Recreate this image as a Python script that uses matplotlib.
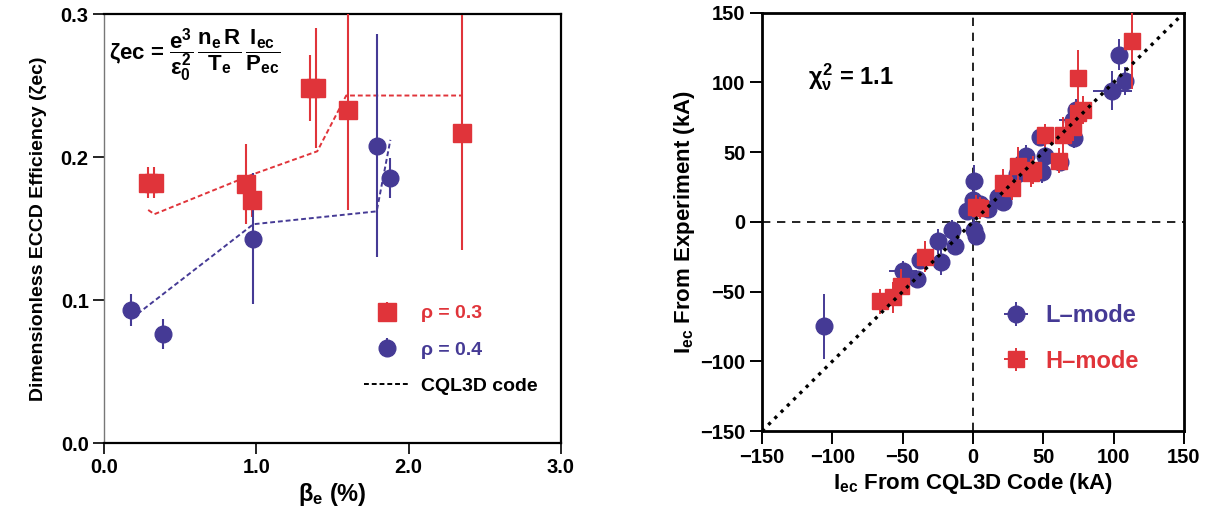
import matplotlib
matplotlib.use('Agg')
import matplotlib.pyplot as plt
from matplotlib.lines import Line2D

plt.rcParams['font.family'] = ['Liberation Sans', 'DejaVu Sans']
plt.rcParams['font.weight'] = 'bold'
plt.rcParams['axes.labelweight'] = 'bold'
plt.rcParams['mathtext.fontset'] = 'custom'
plt.rcParams['mathtext.rm'] = 'Liberation Sans:bold'
plt.rcParams['mathtext.it'] = 'Liberation Sans:bold'
plt.rcParams['mathtext.bf'] = 'Liberation Sans:bold'

RED = '#e0343a'
BLUE = '#453a95'

# ECCD efficiency vs beta_e
beta_r = [0.29, 0.33, 0.93, 0.97, 1.35, 1.39, 1.60, 2.35]
zeta_r = [0.182, 0.182, 0.181, 0.170, 0.248, 0.248, 0.233, 0.217]
zerr_r = [0.011, 0.011, 0.028, 0.012, 0.023, 0.042, 0.070, 0.082]

beta_b = [0.18, 0.39, 0.98, 1.79, 1.88]
zeta_b = [0.093, 0.076, 0.143, 0.208, 0.185]
zerr_b = [0.011, 0.0105, 0.046, 0.078, 0.014]

cql_beta_r = [0.29, 0.33, 0.98, 1.40, 1.59, 2.35]
cql_zeta_r = [0.163, 0.160, 0.188, 0.204, 0.243, 0.243]
cql_beta_b = [0.18, 0.98, 1.79, 1.88]
cql_zeta_b = [0.087, 0.153, 0.162, 0.212]

# measured vs computed current (kA)
lmode_x = [-106, -50, -40, -38, -25, -23, -15, -13, -4, 1, 0, 2, 1, 5, 11, 18, 21,
           31, 38, 35, 49, 51, 48, 62, 72, 73, 71, 99, 104, 108]
lmode_y = [-75, -35, -41, -27, -14, -29, -6, -17, 8, 29, 16, -10, -6, 13, 9, 18, 14,
           34, 47, 42, 36, 47, 61, 43, 60, 80, 73, 94, 120, 101]
lmode_xerr = [0, 10, 0, 0, 0, 0, 0, 0, 0, 0, 0, 0, 0, 0, 0, 0, 0,
              0, 0, 0, 0, 0, 0, 0, 0, 0, 10, 14, 0, 0]
lmode_yerr = [23, 7, 5, 7, 9, 9, 7, 5, 5, 12, 6, 6, 10, 5, 5, 5, 5,
              6, 8, 7, 8, 9, 6, 6, 7, 8, 6, 14, 11, 10]

hmode_x = [-66, -57, -51, -34, 2, 5, 21, 28, 32, 41, 43, 51, 61, 64, 71, 75, 78, 75, 113]
hmode_y = [-57, -54, -46, -25, 11, 10, 28, 24, 40, 35, 37, 62, 44, 62, 68, 78, 80, 103, 130]
hmode_xerr = [0, 0, 0, 0, 0, 0, 0, 0, 0, 0, 0, 0, 0, 0, 0, 5, 0, 0, 0]
hmode_yerr = [9, 11, 12, 11, 8, 8, 10, 8, 14, 10, 10, 8, 9, 13, 10, 8, 10, 20, 35]

diag = [-150, 150]

fig = plt.figure(figsize=(12.08, 5.17), dpi=100)
ax1 = fig.add_axes([0.0861, 0.1431, 0.3783, 0.8298])
ax2 = fig.add_axes([0.6308, 0.1663, 0.3493, 0.8091])

# left panel
ax1.plot(cql_beta_r, cql_zeta_r, '--', color=RED, lw=1.4, dashes=(2.5, 1.5))
ax1.plot(cql_beta_b, cql_zeta_b, '--', color=BLUE, lw=1.4, dashes=(2.5, 1.5))
h_r = ax1.errorbar(beta_r, zeta_r, yerr=zerr_r, fmt='s', ms=13, color=RED,
                   ecolor=RED, elinewidth=1.5, capsize=0, zorder=3)
h_b = ax1.errorbar(beta_b, zeta_b, yerr=zerr_b, fmt='o', ms=12, color=BLUE,
                   ecolor=BLUE, elinewidth=1.5, capsize=0, zorder=3)
h_c = Line2D([], [], ls='--', color='black', lw=1.4, dashes=(2.5, 1.5))

ax1.set_xlim(0, 3)
ax1.set_ylim(0, 0.3)
ax1.set_xticks([0, 1, 2, 3])
ax1.set_xticklabels(['0.0', '1.0', '2.0', '3.0'])
ax1.set_yticks([0, 0.1, 0.2, 0.3])
ax1.set_yticklabels(['0.0', '0.1', '0.2', '0.3'])
ax1.tick_params(direction='out', length=8, width=1.2, labelsize=14.5, pad=3)
for s in ['top', 'right', 'bottom']:
    ax1.spines[s].set_linewidth(1.6)
ax1.spines['left'].set_color('#777777')
ax1.spines['left'].set_linewidth(1.0)

ax1.set_xlabel('\u03b2$_{\\rm e}$ (%)', fontsize=17, labelpad=3)
ax1.set_ylabel('Dimensionless ECCD Efficiency (\u03b6ec)', fontsize=14, labelpad=10)

ax1.text(0.035, 0.271,
         r'$\zeta$ec = $\dfrac{\mathrm{e}^3}{\varepsilon_0^2}\,\dfrac{\mathrm{n_e\,R}}{\mathrm{T_e}}\,\dfrac{\mathrm{I_{ec}}}{\mathrm{P_{ec}}}$',
         fontsize=16, va='center', ha='left')

leg1 = ax1.legend([h_r, h_b, h_c], ['\u03c1 = 0.3', '\u03c1 = 0.4', 'CQL3D code'],
                  loc='upper left', bbox_to_anchor=(0.57, 0.322), frameon=False,
                  fontsize=14, handlelength=2.3, handletextpad=0.6,
                  labelspacing=0.95, borderpad=0, borderaxespad=0)
for t, c in zip(leg1.get_texts(), [RED, BLUE, 'black']):
    t.set_color(c)

# right panel
ax2.axhline(0, color='black', lw=1.2, ls='--', dashes=(5, 4))
ax2.axvline(0, color='black', lw=1.2, ls='--', dashes=(5, 4))
ax2.plot(diag, diag, ls=':', color='black', lw=2.4, zorder=5)
h_l = ax2.errorbar(lmode_x, lmode_y, xerr=lmode_xerr, yerr=lmode_yerr, fmt='o',
                   ms=12, color=BLUE, ecolor=BLUE, elinewidth=1.4, capsize=0, zorder=3)
h_h = ax2.errorbar(hmode_x, hmode_y, xerr=hmode_xerr, yerr=hmode_yerr, fmt='s',
                   ms=11.5, color=RED, ecolor=RED, elinewidth=1.4, capsize=0, zorder=4)

ax2.set_xlim(-150, 150)
ax2.set_ylim(-150, 150)
ax2.set_xticks([-150, -100, -50, 0, 50, 100, 150])
ax2.set_yticks([-150, -100, -50, 0, 50, 100, 150])
ax2.tick_params(direction='out', length=9, width=1.4, labelsize=14.5, pad=3)
for s in ax2.spines.values():
    s.set_linewidth(2)

ax2.set_xlabel(r'I$_{\rm ec}$ From CQL3D Code (kA)', fontsize=16, labelpad=3)
ax2.set_ylabel(r'I$_{\rm ec}$ From Experiment (kA)', fontsize=16, labelpad=2)

ax2.text(-117, 104, r'$\chi^2_\nu$ = 1.1', fontsize=17, va='center', ha='left')

leg2 = ax2.legend([h_l, h_h], ['L\u2013mode', 'H\u2013mode'],
                  loc='upper left', bbox_to_anchor=(0.56, 0.303), frameon=False,
                  fontsize=17, handlelength=1.5, handletextpad=0.5,
                  labelspacing=0.95, borderpad=0, borderaxespad=0)
for t, c in zip(leg2.get_texts(), [BLUE, RED]):
    t.set_color(c)

fig.savefig('out.png', dpi=100)
